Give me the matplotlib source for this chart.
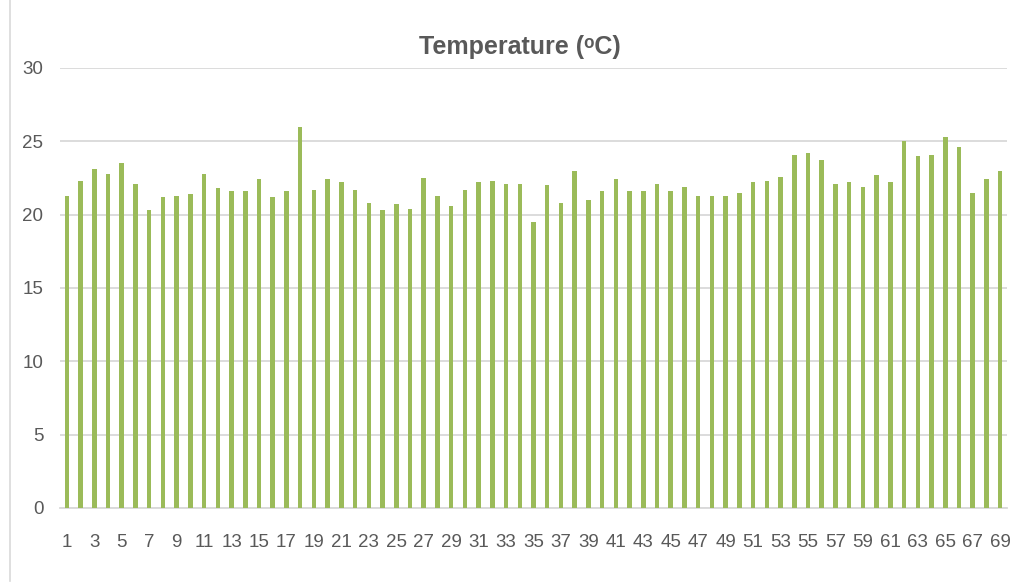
import matplotlib.pyplot as plt
import numpy as np
from matplotlib.lines import Line2D

DAYS = list(range(1, 70))
TEMPS = [
    21.3, 22.3, 23.1, 22.8, 23.5, 22.1, 20.3, 21.2, 21.3, 21.4,
    22.8, 21.8, 21.6, 21.6, 22.4, 21.2, 21.6, 26.0, 21.7, 22.4,
    22.2, 21.7, 20.8, 20.3, 20.7, 20.4, 22.5, 21.3, 20.6, 21.7,
    22.2, 22.3, 22.1, 22.1, 19.5, 22.0, 20.8, 23.0, 21.0, 21.6,
    22.4, 21.6, 21.6, 22.1, 21.6, 21.9, 21.3, 21.3, 21.3, 21.5,
    22.2, 22.3, 22.6, 24.1, 24.2, 23.7, 22.1, 22.2, 21.9, 22.7,
    22.2, 25.0, 24.0, 24.1, 25.3, 24.6, 21.5, 22.4, 23.0,
]
Y_TICKS = [0, 5, 10, 15, 20, 25, 30]

BAR_COLOR = "#9BBB59"
GRID_COLOR = "#D9D9D9"
TEXT_COLOR = "#595959"

plt.rcParams["font.family"] = ["Liberation Sans", "DejaVu Sans"]

fig = plt.figure(figsize=(10.15, 5.85), dpi=100)
ax = fig.add_axes([60 / 1015, 1 - 508 / 585, 947 / 1015, 440 / 585])

x = np.arange(len(DAYS))
ax.bar(x, TEMPS, width=0.33, color=BAR_COLOR, zorder=3)

ax.set_xlim(-0.5, len(DAYS) - 0.5)
ax.set_ylim(0, 30)
ax.set_yticks(Y_TICKS)
ax.set_yticklabels([str(v) for v in Y_TICKS])
ax.set_xticks(x[::2])
ax.set_xticklabels([str(d) for d in DAYS[::2]])

ax.grid(axis="y", color=GRID_COLOR, linewidth=1.3, zorder=0)
for side in ["top", "right", "left"]:
    ax.spines[side].set_visible(False)
ax.spines["bottom"].set_color(GRID_COLOR)
ax.spines["bottom"].set_linewidth(1.3)
ax.tick_params(axis="both", length=0, labelsize=13.5, colors=TEXT_COLOR)
ax.tick_params(axis="x", pad=19)
ax.tick_params(axis="y", pad=12)

fig.text(520 / 1015, 1 - 47 / 585, "Temperature (\u1d52C)",
         ha="center", va="center", fontsize=18, fontweight="bold",
         color=TEXT_COLOR)

# chart area border on the left
fig.add_artist(Line2D([10 / 1015, 10 / 1015], [4 / 585, 1.0],
                      transform=fig.transFigure, color=GRID_COLOR, linewidth=1.2))

fig.savefig("out.png", dpi=100)
